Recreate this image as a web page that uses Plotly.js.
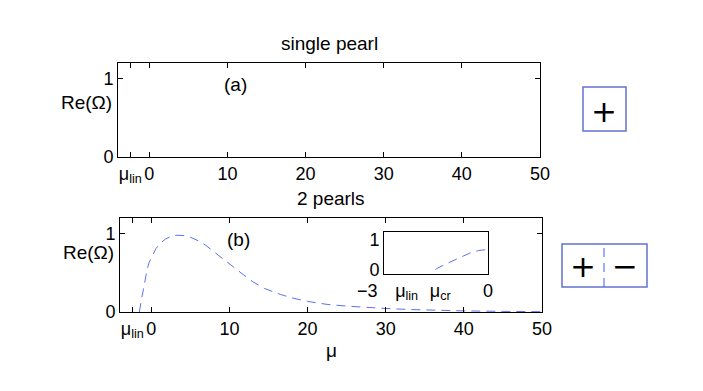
<!DOCTYPE html>
<html>
<head>
<meta charset="utf-8">
<script src="https://cdn.plot.ly/plotly-3.0.1.min.js"></script>
<style>body{margin:0;background:#fff;}</style>
</head>
<body>
<div id="pearlPlot" style="width:703px;height:391px;"></div>
<script>
// special points on the mu axis
const muLin = -2.42;
const muCr = -1.52;

// growth rate of the 2-pearl mode
const mu = [muCr, -1.48, -1.24, -1.0, -0.75, -0.52, -0.28, 0, 0.6, 1.2, 1.8, 2.5, 3.3, 4.2, 5, 6, 7, 8, 9, 10,
	11, 12, 13, 14.5, 16.5, 18, 20, 22.5, 25, 27.5, 30, 33, 36, 40, 45, 50];
const reOmega = [0, 0.03, 0.17, 0.29, 0.43, 0.55, 0.63, 0.69, 0.81, 0.88, 0.93, 0.965, 0.98, 0.975, 0.955, 0.91, 0.85, 0.77, 0.69, 0.61,
	0.53, 0.46, 0.385, 0.3, 0.225, 0.18, 0.135, 0.097, 0.075, 0.058, 0.045, 0.032, 0.023, 0.014, 0.008, 0.004];

// tick labels
const mainTickVals = [muLin, 0, 10, 20, 30, 40, 50];
const mainTickText = ['μ<sub>lin</sub>', '0', '10', '20', '30', '40', '50'];
const insetTickVals = [muLin, muCr, 0];
const insetTickText = ['&nbsp;μ<sub>lin</sub>', '&nbsp;&nbsp;μ<sub>cr</sub>', '0'];
const insetLeftLabel = '−3';

const W = 703, H = 391;
const px = v => v / W;
const py = v => (H - v) / H;

const lineStyle = { color: '#5a72f2', width: 1, dash: '9px,6px' };
const fam = 'Liberation Sans, Arial, sans-serif';

const data = [
	{ x: [], y: [], type: 'scatter', mode: 'lines', xaxis: 'x', yaxis: 'y', hoverinfo: 'skip' },
	{ x: mu, y: reOmega, type: 'scatter', mode: 'lines', xaxis: 'x2', yaxis: 'y2', line: lineStyle },
	{ x: mu, y: reOmega, type: 'scatter', mode: 'lines', xaxis: 'x3', yaxis: 'y3', line: lineStyle }
];

function frame(extra) {
	return Object.assign({
		showline: true, linecolor: '#000', linewidth: 1, mirror: 'ticks',
		ticks: 'inside', ticklen: 5, tickcolor: '#000', tickangle: 0,
		showgrid: false, zeroline: false, tickmode: 'array',
		tickfont: { family: fam, size: 18, color: '#000' }
	}, extra);
}

const font = { family: fam, size: 19, color: '#000' };
const tickFont = { family: fam, size: 18, color: '#000' };
const signFont = { family: 'DejaVu Sans', size: 31, color: '#000' };

function label(text, x, y, f, xanchor) {
	return { text: text, xref: 'paper', yref: 'paper', x: px(x), y: py(y), xanchor: xanchor || 'center', yanchor: 'middle', showarrow: false, font: f };
}

const layout = {
	width: W, height: H,
	margin: { l: 0, r: 0, t: 0, b: 0 },
	showlegend: false,
	paper_bgcolor: '#fff', plot_bgcolor: '#fff',
	font: font,
	xaxis: frame({ domain: [px(118), px(540)], range: [-4, 50], anchor: 'y', tickvals: mainTickVals, ticktext: mainTickText }),
	yaxis: frame({ domain: [py(157), py(63)], range: [0, 1.2], anchor: 'x', tickvals: [0, 1] }),
	xaxis2: frame({ domain: [px(120), px(542)], range: [-4, 50], anchor: 'y2', tickvals: mainTickVals, ticktext: mainTickText }),
	yaxis2: frame({ domain: [py(312), py(218)], range: [0, 1.2], anchor: 'x2', tickvals: [0, 1] }),
	xaxis3: frame({ domain: [px(384), px(488)], range: [-3, 0], anchor: 'y3', tickvals: insetTickVals, ticktext: insetTickText, ticks: '' }),
	yaxis3: frame({ domain: [py(274), py(232)], range: [-0.15, 1.25], anchor: 'x3', tickvals: [0, 1], ticks: '' }),
	annotations: [
		label('single pearl', 329, 43, font),
		label('2 pearls', 331, 198, font),
		label('μ', 331, 350, font),
		label('Re(Ω)', 114, 103, font, 'right'),
		label('Re(Ω)', 116, 252, font, 'right'),
		label('(a)', 235, 85, font),
		label('(b)', 238, 239, font),
		label(insetLeftLabel, 368, 291, tickFont),
		label('+', 604, 111, signFont),
		label('+', 583, 266, signFont),
		label('−', 625, 266, signFont)
	],
	shapes: [
		{ type: 'rect', xref: 'paper', yref: 'paper', x0: px(583), x1: px(626), y0: py(131), y1: py(87), line: { color: '#6373d0', width: 1.5 } },
		{ type: 'rect', xref: 'paper', yref: 'paper', x0: px(562), x1: px(647), y0: py(287), y1: py(244), line: { color: '#6373d0', width: 1.5 } },
		{ type: 'line', xref: 'paper', yref: 'paper', x0: px(604), x1: px(604), y0: py(287), y1: py(244), line: { color: '#3f5cf5', width: 1, dash: '9px,6px' } }
	]
};

Plotly.newPlot('pearlPlot', data, layout, { displayModeBar: false, staticPlot: true });
</script>
</body>
</html>
